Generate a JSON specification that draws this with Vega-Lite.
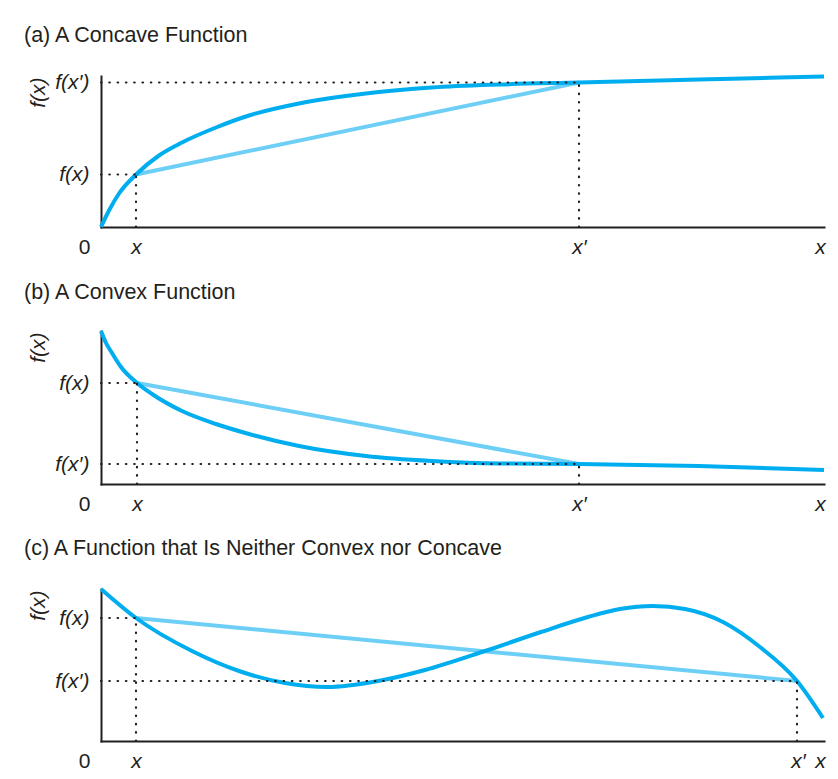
{
  "$schema": "https://vega.github.io/schema/vega-lite/v6.json",
  "background": "white",
  "padding": {"left": 24, "top": 25, "right": 5, "bottom": 5},
  "spacing": 24,
  "config": {
    "font": "Liberation Sans",
    "view": {"stroke": null},
    "title": {"anchor": "start", "frame": "bounds", "fontSize": 21.5, "fontWeight": "normal", "color": "#231f20", "offset": 18, "dx": -3},
    "axis": {
      "grid": false, "ticks": false, "domainColor": "#231f20", "domainWidth": 2, "domainCap": "square",
      "labelFont": "Liberation Sans", "labelFontSize": 21, "labelColor": "#231f20",
      "titleFont": "Liberation Sans", "titleFontSize": 21, "titleColor": "#231f20", "titleFontWeight": "normal", "titleFontStyle": "italic",
      "labelFlush": false, "labelOverlap": false
    }
  },
  "vconcat": [
    {
      "title": {"text": "(a) A Concave Function", "offset": 22},
      "width": 723, "height": 151,
      "data": {"values": [
        {"s": "f", "x": 0, "y": 0}, {"s": "f", "x": 8, "y": 16.5}, {"s": "f", "x": 18, "y": 33.5},
        {"s": "f", "x": 35, "y": 52.5}, {"s": "f", "x": 58, "y": 71.5}, {"s": "f", "x": 81, "y": 84.5}, {"s": "f", "x": 115, "y": 99.5},
        {"s": "f", "x": 148, "y": 111.5}, {"s": "f", "x": 198, "y": 123.5}, {"s": "f", "x": 265, "y": 133.5}, {"s": "f", "x": 331, "y": 139.5},
        {"s": "f", "x": 398, "y": 142.5}, {"s": "f", "x": 478, "y": 144.5}, {"s": "f", "x": 598, "y": 147.5}, {"s": "f", "x": 723, "y": 150.5},
        {"s": "c", "x": 35, "y": 52.5}, {"s": "c", "x": 478, "y": 144.5},
        {"s": "g", "x": 0, "x2": 35, "y": 52.5, "y2": 52.5},
        {"s": "g", "x": 35, "x2": 35, "y": 0, "y2": 52.5},
        {"s": "g", "x": 0, "x2": 478, "y": 144.5, "y2": 144.5},
        {"s": "g", "x": 478, "x2": 478, "y": 0, "y2": 144.5}
      ]},
      "encoding": {
        "x": {"field": "x", "type": "quantitative", "scale": {"domain": [0, 723], "nice": false, "zero": false},
          "axis": {"title": null, "values": [0, 35, 478, 719], "labelPadding": 9,
            "labelExpr": "datum.value == 0 ? '0' : datum.value == 478 ? 'x′' : 'x'",
            "labelAlign": {"condition": {"test": "datum.value == 0", "value": "right"}, "value": "center"},
            "labelOffset": {"condition": {"test": "datum.value == 0", "value": -11}, "value": 0},
            "labelFontStyle": {"condition": {"test": "datum.value == 0", "value": "normal"}, "value": "italic"}}},
        "y": {"field": "y", "type": "quantitative", "scale": {"domain": [0, 151], "nice": false, "zero": false},
          "axis": {"title": "f(x)", "values": [52.5, 144.5], "labelPadding": 12, "labelFontStyle": "italic",
            "labelExpr": "datum.value == 52.5 ? 'f(x)' : 'f(x′)'",
            "titleAnchor": "end", "titleAngle": 270, "titleAlign": "right", "titleBaseline": "alphabetic", "titleX": -57, "titleY": 1}}
      },
      "layer": [
        {"transform": [{"filter": "datum.s == 'c'"}], "mark": {"type": "line", "stroke": "#6dcff6", "strokeWidth": 4}},
        {"transform": [{"filter": "datum.s == 'f'"}], "mark": {"type": "line", "stroke": "#00aeef", "strokeWidth": 4, "interpolate": "monotone"}},
        {"transform": [{"filter": "datum.s == 'g'"}], "mark": {"type": "rule", "stroke": "#231f20", "strokeWidth": 2.2, "strokeDash": [0.5, 7.8], "strokeCap": "round"},
          "encoding": {"x2": {"field": "x2"}, "y2": {"field": "y2"}}}
      ]
    },
    {
      "title": {"text": "(b) A Convex Function", "offset": 20},
      "width": 723, "height": 153,
      "data": {"values": [
        {"s": "f", "x": 0, "y": 153}, {"s": "f", "x": 5, "y": 141}, {"s": "f", "x": 11, "y": 131}, {"s": "f", "x": 20, "y": 117},
        {"s": "f", "x": 36, "y": 101}, {"s": "f", "x": 51, "y": 90}, {"s": "f", "x": 81, "y": 73}, {"s": "f", "x": 115, "y": 60},
        {"s": "f", "x": 148, "y": 50}, {"s": "f", "x": 198, "y": 38}, {"s": "f", "x": 265, "y": 28}, {"s": "f", "x": 331, "y": 23},
        {"s": "f", "x": 398, "y": 20.5}, {"s": "f", "x": 478, "y": 20}, {"s": "f", "x": 598, "y": 18}, {"s": "f", "x": 723, "y": 14},
        {"s": "c", "x": 36, "y": 101}, {"s": "c", "x": 478, "y": 20},
        {"s": "g", "x": 0, "x2": 36, "y": 101, "y2": 101},
        {"s": "g", "x": 36, "x2": 36, "y": 0, "y2": 101},
        {"s": "g", "x": 0, "x2": 478, "y": 20, "y2": 20},
        {"s": "g", "x": 478, "x2": 478, "y": 0, "y2": 20}
      ]},
      "encoding": {
        "x": {"field": "x", "type": "quantitative", "scale": {"domain": [0, 723], "nice": false, "zero": false},
          "axis": {"title": null, "values": [0, 36, 478, 719], "labelPadding": 9,
            "labelExpr": "datum.value == 0 ? '0' : datum.value == 478 ? 'x′' : 'x'",
            "labelAlign": {"condition": {"test": "datum.value == 0", "value": "right"}, "value": "center"},
            "labelOffset": {"condition": {"test": "datum.value == 0", "value": -11}, "value": 0},
            "labelFontStyle": {"condition": {"test": "datum.value == 0", "value": "normal"}, "value": "italic"}}},
        "y": {"field": "y", "type": "quantitative", "scale": {"domain": [0, 153], "nice": false, "zero": false},
          "axis": {"title": "f(x)", "values": [101, 20], "labelPadding": 12, "labelFontStyle": "italic",
            "labelExpr": "datum.value == 101 ? 'f(x)' : 'f(x′)'",
            "titleAnchor": "end", "titleAngle": 270, "titleAlign": "right", "titleBaseline": "alphabetic", "titleX": -57, "titleY": 1}}
      },
      "layer": [
        {"transform": [{"filter": "datum.s == 'c'"}], "mark": {"type": "line", "stroke": "#6dcff6", "strokeWidth": 4}},
        {"transform": [{"filter": "datum.s == 'f'"}], "mark": {"type": "line", "stroke": "#00aeef", "strokeWidth": 4, "interpolate": "monotone"}},
        {"transform": [{"filter": "datum.s == 'g'"}], "mark": {"type": "rule", "stroke": "#231f20", "strokeWidth": 2.2, "strokeDash": [0.5, 7.8], "strokeCap": "round"},
          "encoding": {"x2": {"field": "x2"}, "y2": {"field": "y2"}}}
      ]
    },
    {
      "title": {"text": "(c) A Function that Is Neither Convex nor Concave", "offset": 21.5},
      "width": 723, "height": 152,
      "data": {"values": [
        {"s": "f", "x": 0, "y": 152}, {"s": "f", "x": 35, "y": 123}, {"s": "f", "x": 91, "y": 90}, {"s": "f", "x": 138, "y": 70},
        {"s": "f", "x": 184, "y": 58}, {"s": "f", "x": 226, "y": 54}, {"s": "f", "x": 277, "y": 60}, {"s": "f", "x": 324, "y": 71},
        {"s": "f", "x": 384, "y": 90}, {"s": "f", "x": 440, "y": 109}, {"s": "f", "x": 487, "y": 124}, {"s": "f", "x": 519, "y": 132},
        {"s": "f", "x": 552, "y": 135}, {"s": "f", "x": 584, "y": 132}, {"s": "f", "x": 622, "y": 119}, {"s": "f", "x": 659, "y": 94},
        {"s": "f", "x": 696, "y": 60}, {"s": "f", "x": 722, "y": 23},
        {"s": "c", "x": 35, "y": 123}, {"s": "c", "x": 696, "y": 60},
        {"s": "g", "x": 0, "x2": 35, "y": 123, "y2": 123},
        {"s": "g", "x": 35, "x2": 35, "y": 0, "y2": 123},
        {"s": "g", "x": 0, "x2": 696, "y": 60, "y2": 60},
        {"s": "g", "x": 696, "x2": 696, "y": 0, "y2": 60}
      ]},
      "encoding": {
        "x": {"field": "x", "type": "quantitative", "scale": {"domain": [0, 723], "nice": false, "zero": false},
          "axis": {"title": null, "values": [0, 35, 697, 719], "labelPadding": 9,
            "labelExpr": "datum.value == 0 ? '0' : datum.value == 697 ? 'x′' : 'x'",
            "labelAlign": {"condition": {"test": "datum.value == 0", "value": "right"}, "value": "center"},
            "labelOffset": {"condition": {"test": "datum.value == 0", "value": -11}, "value": 0},
            "labelFontStyle": {"condition": {"test": "datum.value == 0", "value": "normal"}, "value": "italic"}}},
        "y": {"field": "y", "type": "quantitative", "scale": {"domain": [0, 152], "nice": false, "zero": false},
          "axis": {"title": "f(x)", "values": [123, 60], "labelPadding": 12, "labelFontStyle": "italic",
            "labelExpr": "datum.value == 123 ? 'f(x)' : 'f(x′)'",
            "titleAnchor": "end", "titleAngle": 270, "titleAlign": "right", "titleBaseline": "alphabetic", "titleX": -57, "titleY": 1}}
      },
      "layer": [
        {"transform": [{"filter": "datum.s == 'c'"}], "mark": {"type": "line", "stroke": "#6dcff6", "strokeWidth": 4}},
        {"transform": [{"filter": "datum.s == 'f'"}], "mark": {"type": "line", "stroke": "#00aeef", "strokeWidth": 4, "interpolate": "monotone"}},
        {"transform": [{"filter": "datum.s == 'g'"}], "mark": {"type": "rule", "stroke": "#231f20", "strokeWidth": 2.2, "strokeDash": [0.5, 7.8], "strokeCap": "round"},
          "encoding": {"x2": {"field": "x2"}, "y2": {"field": "y2"}}}
      ]
    }
  ]
}
